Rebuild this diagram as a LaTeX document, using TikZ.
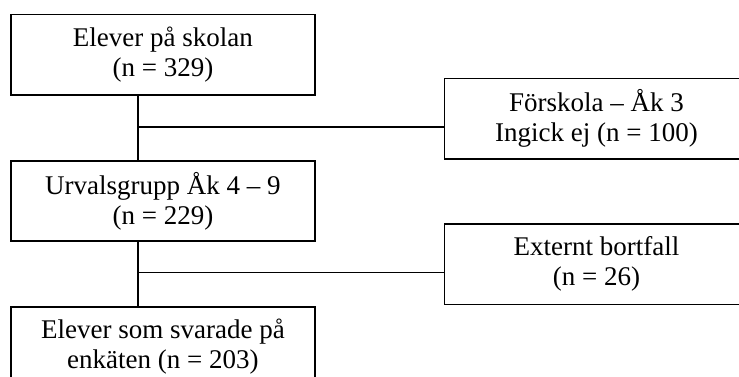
\documentclass[tikz,border=0pt]{standalone}
\usepackage{fontspec}
\setmainfont{Liberation Serif}
\usetikzlibrary{positioning,calc}
\tikzset{
  box/.style={draw,line width=0.75pt,minimum width=135.2pt,minimum height=35.6pt,
    inner sep=0pt,align=center,font=\fontsize{12}{13.3}\selectfont},
  link/.style={line width=0.75pt}
}

\begin{document}
\begin{tikzpicture}
    \useasboundingbox (0,0) rectangle (328.4pt,-167.1pt);
    \clip (0,0) rectangle (328.4pt,-167.1pt);
    \node[box] (sk) at (72.4pt,-24.3pt) {Elever på skolan\\(n = 329)};
    \node[box,below=28.6pt of sk] (ur) {Urvalsgrupp Åk 4 – 9\\(n = 229)};
    \node[box,below=28.6pt of ur] (sv) {Elever som svarade på\\enkäten (n = 203)};
    \node[box,right=56.75pt of sk,yshift=-28.4pt] (fk) {Förskola – Åk 3\\Ingick ej (n = 100)};
    \node[box,right=56.75pt of ur,yshift=-28.2pt] (eb) {Externt bortfall\\(n = 26)};
    \coordinate (j1) at ($(sk.south)+(-11pt,0)$);
    \coordinate (j2) at ($(ur.south)+(-11pt,0)$);
    \coordinate (k1) at ($(fk.west)+(0,-3.6pt)$);
    \coordinate (k2) at ($(eb.west)+(0,-3.6pt)$);
    \draw[link] (j1) -- (j1 |- ur.north);
    \draw[link] (j2) -- (j2 |- sv.north);
    \draw[link] (j1 |- k1) -- (k1);
    \draw[link] (j2 |- k2) -- (k2);
\end{tikzpicture}
\end{document}
